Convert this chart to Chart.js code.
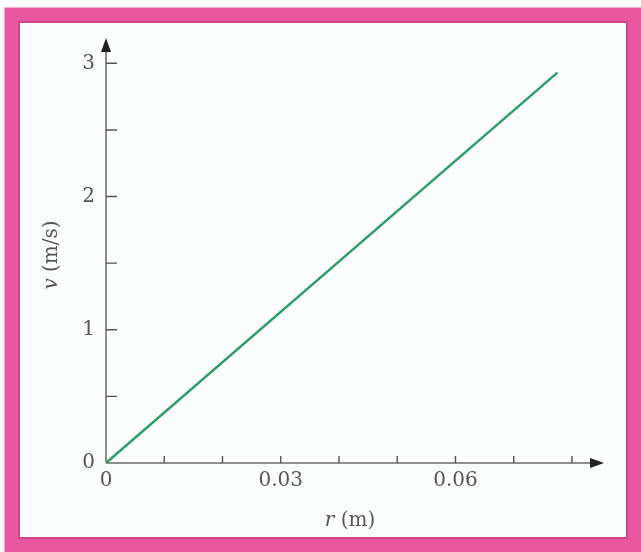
<!DOCTYPE html>
<html><head><meta charset="utf-8">
<script src="https://cdn.jsdelivr.net/npm/chart.js@4"></script>
<style>
html,body{margin:0;padding:0;background:#fff;width:641px;height:552px;overflow:hidden}
#frame{position:absolute;left:5px;top:8px;width:636px;height:544px;box-sizing:border-box;border:13px solid #e8579f;background:#fcfdfd;box-shadow:inset 0 0 0 2px #d0448c, 0 0 0 1px #f5aacf;}
#wrap{position:absolute;left:0;top:0;width:641px;height:552px}
</style></head>
<body><div id="frame"></div><div id="wrap"><canvas id="c"></canvas></div>
<script>
// Data
const rValues = [0, 0.0775];
const vValues = [0, 2.93];
const xMajorTicks = [0, 0.03, 0.06];
const xMinorTicks = [0.01, 0.02, 0.03, 0.04, 0.05, 0.06, 0.07, 0.08];
const yMajorTicks = [0, 1, 2, 3];
const yMinorTicks = [0.5, 1.5, 2.5];
const xTitleVar = 'r', xTitleUnit = ' (m)';
const yTitleVar = 'v', yTitleUnit = ' (m/s)';

const points = rValues.map((r, i) => ({x: r, y: vValues[i]}));
const fontFam = '"DejaVu Serif", "Liberation Serif", serif';
const textColor = '#555';

function drawMixed(ctx, parts, cx, cy) {
  // parts: [{text, italic}]
  let total = 0;
  const widths = parts.map(p => { ctx.font = (p.italic ? 'italic ' : '') + '20px ' + fontFam; const w = ctx.measureText(p.text).width; total += w; return w; });
  let x = cx - total / 2;
  parts.forEach((p, i) => { ctx.font = (p.italic ? 'italic ' : '') + '20px ' + fontFam; ctx.fillText(p.text, x, cy); x += widths[i]; });
}

const axesPlugin = {
  id: 'axesArrows',
  beforeDatasetsDraw(chart) {
    const ctx = chart.ctx, xs = chart.scales.x, ys = chart.scales.y, ca = chart.chartArea;
    const x0 = xs.getPixelForValue(0), y0 = ys.getPixelForValue(0);
    ctx.save();
    ctx.strokeStyle = '#6a6a6a';
    ctx.lineWidth = 1.5;
    ctx.beginPath();
    ctx.moveTo(x0, y0); ctx.lineTo(ca.right - 8, y0);
    ctx.moveTo(x0, y0); ctx.lineTo(x0, ca.top + 8);
    ctx.stroke();
    ctx.fillStyle = '#222';
    ctx.beginPath();
    ctx.moveTo(ca.right, y0); ctx.lineTo(ca.right - 14, y0 - 5); ctx.lineTo(ca.right - 14, y0 + 5); ctx.closePath();
    ctx.fill();
    ctx.beginPath();
    ctx.moveTo(x0, ca.top); ctx.lineTo(x0 - 5, ca.top + 14); ctx.lineTo(x0 + 5, ca.top + 14); ctx.closePath();
    ctx.fill();
    ctx.strokeStyle = '#555';
    ctx.lineWidth = 1.4;
    ctx.beginPath();
    xMinorTicks.forEach(v => { const p = xs.getPixelForValue(v); ctx.moveTo(p, y0); ctx.lineTo(p, y0 - 7); });
    yMajorTicks.concat(yMinorTicks).forEach(v => { if (v === 0) return; const p = ys.getPixelForValue(v); ctx.moveTo(x0, p); ctx.lineTo(x0 + 11, p); });
    ctx.stroke();
    ctx.restore();
  },
  afterDraw(chart) {
    const ctx = chart.ctx;
    ctx.save();
    ctx.fillStyle = textColor;
    ctx.textBaseline = 'middle';
    ctx.textAlign = 'left';
    drawMixed(ctx, [{text: xTitleVar, italic: true}, {text: xTitleUnit, italic: false}], 350, 521);
    ctx.translate(52, 255);
    ctx.rotate(-Math.PI / 2);
    drawMixed(ctx, [{text: yTitleVar, italic: true}, {text: yTitleUnit, italic: false}], 0, 0);
    ctx.restore();
  }
};

new Chart(document.getElementById('c'), {
  type: 'line',
  data: { datasets: [{ data: points, borderColor: '#2f9e6c', borderWidth: 2.5, pointRadius: 0, tension: 0, fill: false }] },
  options: {
    responsive: true, maintainAspectRatio: false, animation: false, devicePixelRatio: 1,
    layout: { padding: { top: 38, right: 37, left: 0, bottom: 0 } },
    plugins: { legend: { display: false }, tooltip: { enabled: false } },
    scales: {
      x: {
        type: 'linear', min: 0, max: 0.0855,
        afterBuildTicks: s => { s.ticks = xMajorTicks.map(v => ({value: v})); },
        afterFit: s => { s.height = 89; },
        grid: { display: false, drawTicks: false },
        border: { display: false },
        ticks: { padding: 6, color: textColor, font: { family: fontFam, size: 20 }, maxRotation: 0,
          callback: v => String(v) },
        title: { display: false }
      },
      y: {
        type: 'linear', min: 0, max: 3.19,
        afterBuildTicks: s => { s.ticks = yMajorTicks.map(v => ({value: v})); },
        afterFit: s => { s.width = 106; },
        grid: { display: false, drawTicks: false },
        border: { display: false },
        ticks: { padding: 11, color: textColor, font: { family: fontFam, size: 20 }, callback: v => String(v) },
        title: { display: false }
      }
    }
  },
  plugins: [axesPlugin]
});
</script>
</body></html>
